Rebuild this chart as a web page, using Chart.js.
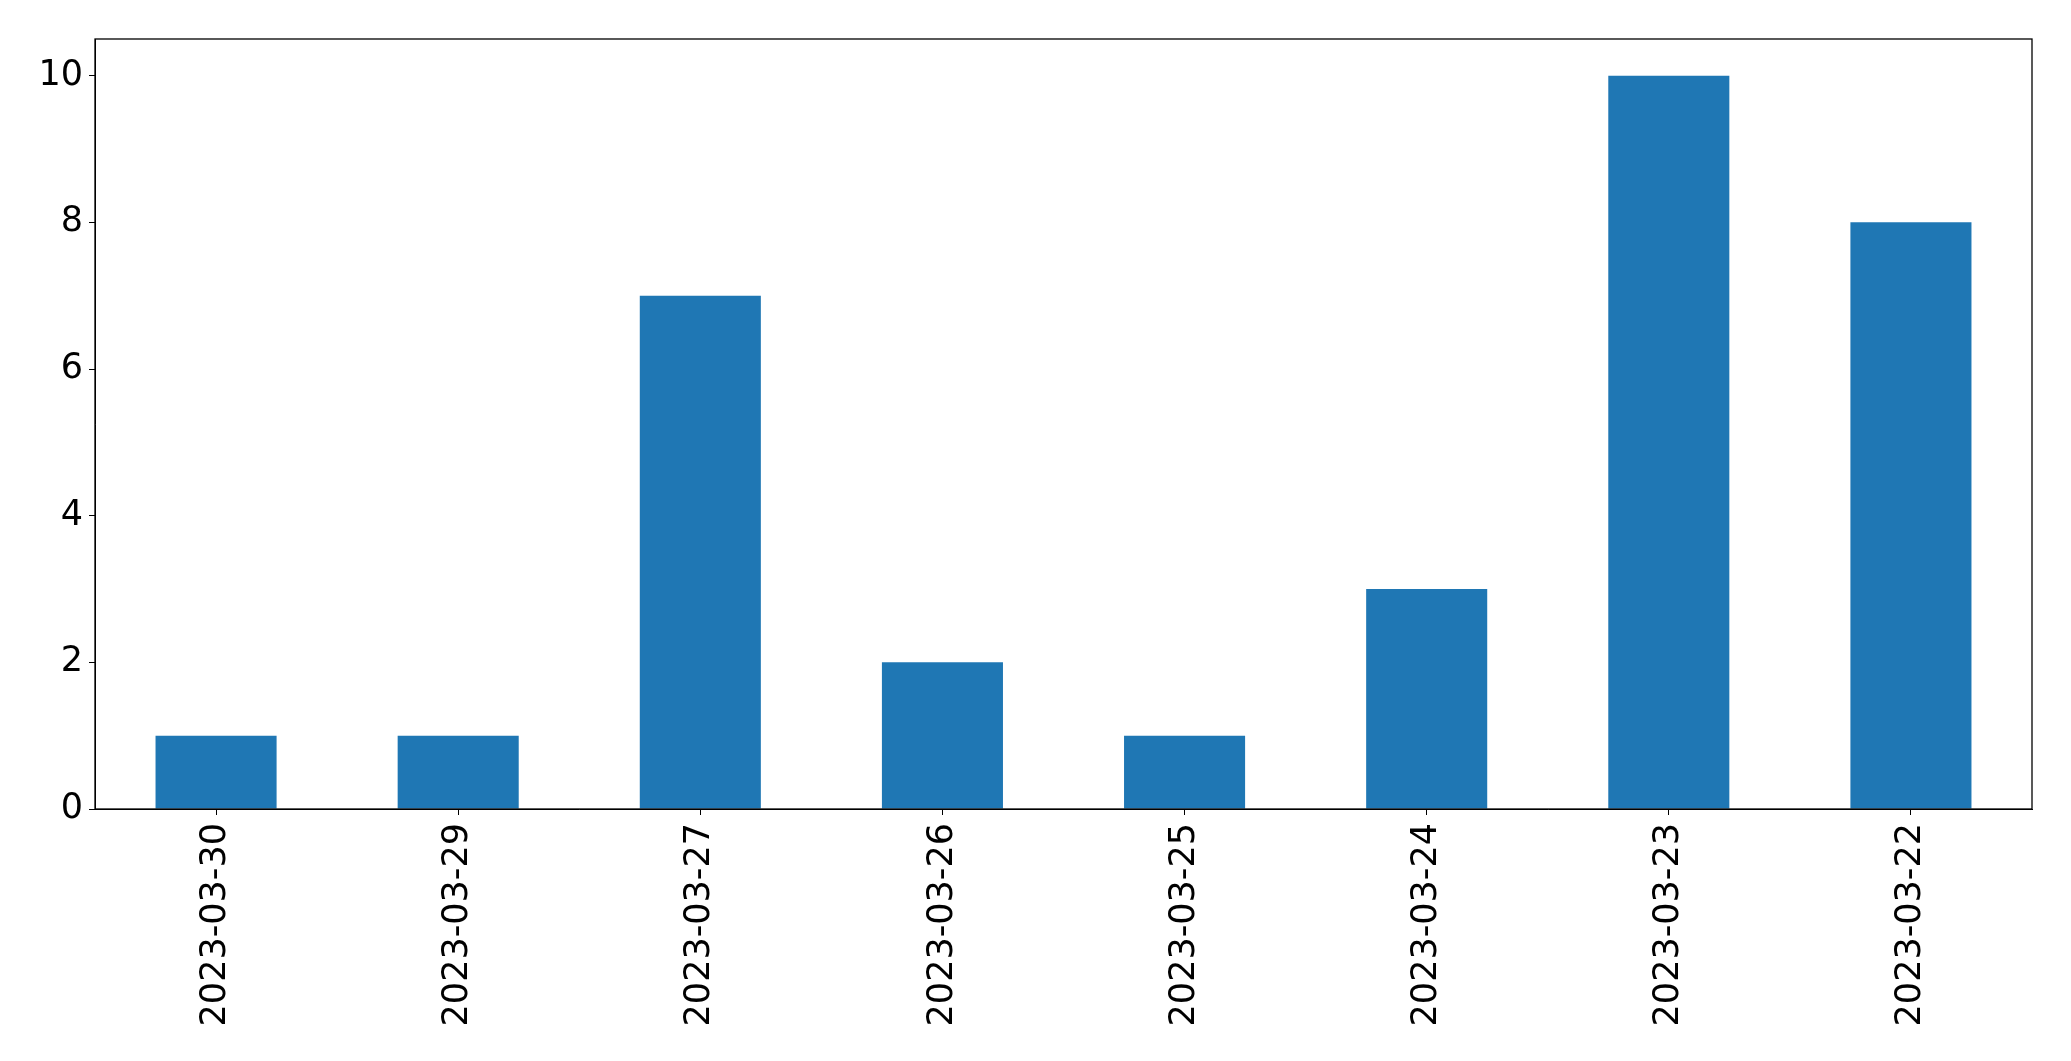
<!DOCTYPE html>
<html>
<head>
<meta charset="utf-8">
<script src="https://cdn.jsdelivr.net/npm/chart.js@4.4.0/dist/chart.umd.min.js"></script>
<style>
  html, body { margin: 0; padding: 0; background: #fff; }
  #wrap { width: 2071px; height: 1061px; }
</style>
</head>
<body>
<div id="wrap"><canvas id="chart" width="2071" height="1061"></canvas></div>
<script>
const dates = ['2023-03-30', '2023-03-29', '2023-03-27', '2023-03-26', '2023-03-25', '2023-03-24', '2023-03-23', '2023-03-22'];
const counts = [1, 1, 7, 2, 1, 3, 10, 8];
const yTicks = [0, 2, 4, 6, 8, 10];

// frame around the plot area, like the matplotlib axes box
const frame = {
    id: 'frame',
    afterDraw(chart) {
        const { ctx, chartArea: a } = chart;
        ctx.save();
        ctx.strokeStyle = '#000';
        ctx.lineWidth = 1.3;
        ctx.strokeRect(a.left, a.top, a.right - a.left, a.bottom - a.top);
        ctx.restore();
    }
};

const font = { family: 'DejaVu Sans', size: 35 };

new Chart(document.getElementById('chart'), {
    type: 'bar',
    data: {
        labels: dates,
        datasets: [{
            data: counts,
            backgroundColor: '#1f77b4',
            barPercentage: 0.5,
            categoryPercentage: 1.0
        }]
    },
    options: {
        responsive: false,
        animation: false,
        layout: { padding: { left: 0, top: 39, right: 39, bottom: 0 } },
        plugins: { legend: { display: false }, tooltip: { enabled: false } },
        scales: {
            x: {
                grid: { drawOnChartArea: false, offset: false, color: '#000', tickLength: 6 },
                border: { color: '#000' },
                ticks: { color: '#000', font, minRotation: 90, maxRotation: 90, padding: 8 },
                afterFit(scale) { scale.height = 252; }
            },
            y: {
                min: 0,
                max: 10.5,
                grid: { drawOnChartArea: false, color: '#000', tickLength: 6 },
                border: { color: '#000' },
                ticks: { color: '#000', font, padding: 6 },
                afterBuildTicks(scale) { scale.ticks = yTicks.map(v => ({ value: v })); },
                afterFit(scale) { scale.width = 95; }
            }
        }
    },
    plugins: [frame]
});
</script>
</body>
</html>
